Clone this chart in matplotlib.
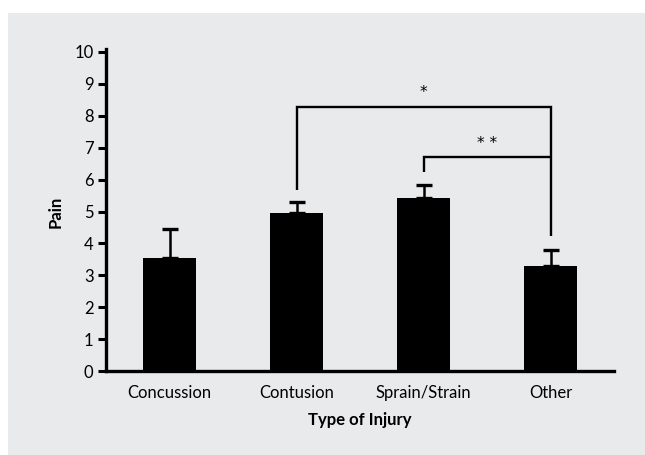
import matplotlib.pyplot as plt
from matplotlib.patches import Rectangle

# data
categories = ['Concussion', 'Contusion', 'Sprain/Strain', 'Other']
pain = [3.55, 4.95, 5.42, 3.29]
err_up = [0.9, 0.35, 0.42, 0.5]

# significance brackets: (left bar, right bar, height, left drop, right drop, label)
brackets = [
    (1, 3, 8.28, 5.67, 4.23, '*'),
    (2, 3, 6.71, 6.24, 6.71, '* *'),
]

plt.rcParams['font.family'] = ['Lato', 'DejaVu Sans']

fig = plt.figure(figsize=(6.45, 4.55), dpi=100)
fig.patch.set_facecolor('white')
fig.patches.append(Rectangle((8 / 645, 0), 1, 1 - 13 / 455, transform=fig.transFigure,
                             facecolor='#e9eaec', edgecolor='none', zorder=-10))

ax = fig.add_axes([106 / 645, 1 - 371 / 455, 508 / 645, (371 - 52) / 455])
ax.set_facecolor('none')

x = range(len(categories))
ax.bar(x, pain, width=0.425, color='black', zorder=3)
ax.errorbar(x, pain, yerr=[[0] * len(pain), err_up], fmt='none', ecolor='black',
            elinewidth=1.8, capsize=6, capthick=2.4, zorder=2)

for l, r, h, dl, dr, lab in brackets:
    ax.plot([l, l, r, r], [dl, h, h, dr], color='black', lw=1.7, solid_capstyle='butt',
            solid_joinstyle='miter', zorder=4)
    ax.text((l + r) / 2, h + 0.2, lab, ha='center', va='bottom', fontsize=11,
            family='DejaVu Sans')

ax.set_xlim(-0.5, 3.5)
ax.set_ylim(0, 10)
ax.set_yticks(range(0, 11))
ax.set_xticks(list(x))
ax.set_xticklabels(categories)
ax.tick_params(axis='y', length=6, width=2.2, labelsize=12, pad=3)
ax.tick_params(axis='x', length=0, labelsize=12, pad=10)

for s in ['top', 'right']:
    ax.spines[s].set_visible(False)
ax.spines['left'].set_linewidth(2.4)
ax.spines['bottom'].set_linewidth(2.4)
ax.spines['left'].set_bounds(0, 10.08)

ax.set_ylabel('Pain', fontsize=12, fontweight='bold', labelpad=8)
ax.set_xlabel('Type of Injury', fontsize=12, fontweight='bold', labelpad=8)

fig.savefig('out.png', dpi=100)
